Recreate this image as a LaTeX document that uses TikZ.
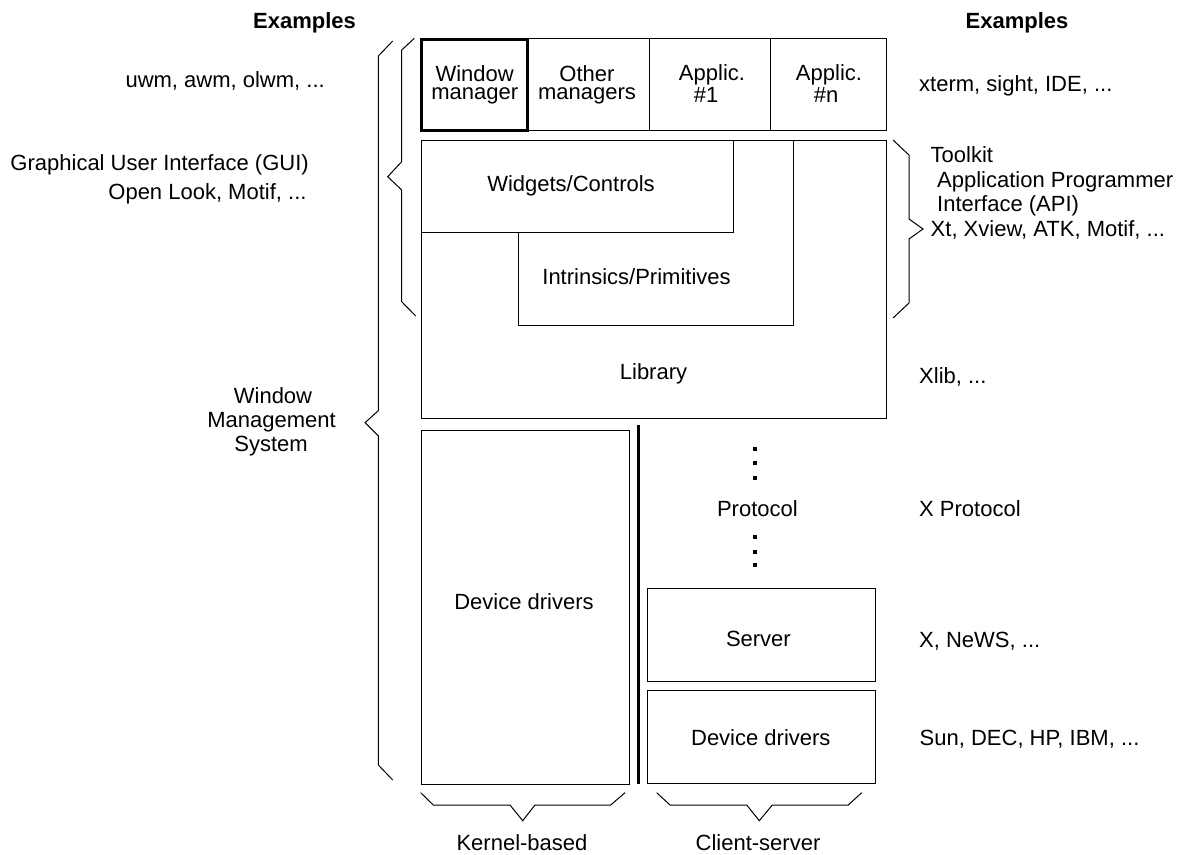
\documentclass[tikz,border=0pt]{standalone}
\usepackage{fontspec}
\setmainfont{Liberation Sans}
\begin{document}
\begin{tikzpicture}[x=1pt,y=-1pt,
  ln/.style={line width=1pt, line join=miter},
  thk/.style={line width=3pt, line join=miter},
  txt/.style={font=\fontsize{22}{24}\selectfont, inner sep=0pt, anchor=base},
  txtw/.style={txt, anchor=base west},
  txte/.style={txt, anchor=base east},
  hdr/.style={txt, font=\fontsize{22}{24}\selectfont\bfseries},
  dotsq/.style={fill=black}
]
\useasboundingbox (0,0) rectangle (1188,854);

% ---------- top row ----------
\draw[ln] (421.5,38) rectangle (886,130);
\draw[ln] (649.3,38) -- (649.3,130);
\draw[ln] (770.1,38) -- (770.1,130);
\draw[thk] (421.5,39.5) rectangle (527.5,130.5);

% ---------- GUI / library ----------
\draw[ln] (421.5,140) rectangle (886,418);
\draw[ln] (421.5,232.3) -- (733.3,232.3) -- (733.3,140);
\draw[ln] (518,232.3) -- (518,325) -- (793.5,325) -- (793.5,140);

% ---------- lower part ----------
\draw[ln] (421.5,430.7) rectangle (629.3,784.3);
\draw[thk] (638.3,425) -- (638.3,784.3);
\draw[ln] (647.5,588.3) rectangle (875.2,681);
\draw[ln] (647.5,690.3) rectangle (875.2,783.8);

% protocol dots
\foreach \yy in {449.3,463.3,477.7,536.7,551.7,565}
  \fill[dotsq] (753,\yy-2) rectangle (757,\yy+2);

% ---------- braces ----------
% big left brace (Window Management System)
\draw[ln] (392.7,41) -- (378.3,56) -- (378.3,410.7) -- (365,422.7) -- (378.3,436) -- (378.3,765) -- (392.7,780);
% small left brace (GUI)
\draw[ln] (414.3,38.3) -- (401.7,50) -- (401.7,161.7) -- (387.7,176.7) -- (401.7,190) -- (401.7,301.7) -- (415.7,316);
% right brace (Toolkit)
\draw[ln] (893,140) -- (909,155) -- (909,219) -- (923,229) -- (909,239) -- (909,303) -- (893,318);
% bottom braces
\draw[ln] (420.7,792.7) -- (433.3,805) -- (510,805) -- (522.7,820.7) -- (535,805) -- (610.7,805) -- (625,792.7);
\draw[ln] (656.7,792.7) -- (670,805) -- (746.7,805) -- (759.3,820.7) -- (772.3,805) -- (848.3,805) -- (861.7,792.7);

% ---------- box texts ----------
\node[txt] (wma) at (474.7,81) {Window};
\node[txt] (wmb) at (474.7,99.3) {manager};
\node[txt] (oma) at (587,81) {Other};
\node[txt] (omb) at (587,99.3) {managers};
\node[txt] (apa) at (712,80) {Applic.};
\node[txt] (apb) at (706,102.7) {\#1};
\node[txt] (ana) at (829,80) {Applic.};
\node[txt] (anb) at (826,102.7) {\#n};
\node[txt] (wid) at (571,191.3) {Widgets/Controls};
\node[txt] (intr) at (636.5,284.7) {Intrinsics/Primitives};
\node[txt] (lib) at (653.5,379.5) {Library};
\node[txt] (ddk) at (524,609.7) {Device drivers};
\node[txt] (prot) at (757.4,516.3) {Protocol};
\node[txt] (srv) at (758.4,646.3) {Server};
\node[txt] (ddc) at (760.8,745) {Device drivers};
\node[txt] (kb) at (522,850) {Kernel-based};
\node[txt] (cs) at (758,850) {Client-server};

% ---------- left examples ----------
\node[hdr] (exl) at (304.5,28) {Examples};
\node[txte] (uwm) at (325,87) {uwm, awm, olwm, ...};
\node[txte] (gui) at (309,170) {Graphical User Interface (GUI)};
\node[txte] (ol) at (306.7,199) {Open Look, Motif, ...};
\node[txt] (wmsa) at (273,403.3) {Window};
\node[txt] (wmsb) at (271.5,427.7) {Management};
\node[txt] (wmsc) at (271,451) {System};

% ---------- right examples ----------
\node[hdr] (exr) at (1017,28) {Examples};
\node[txtw] (xt) at (919,91) {xterm, sight, IDE, ...};
\node[txtw] (tk1) at (930.5,162) {Toolkit};
\node[txtw] (tk2) at (937,187) {Application Programmer};
\node[txtw] (tk3) at (937,211) {Interface (API)};
\node[txtw] (tk4) at (930.5,236) {Xt, Xview, ATK, Motif, ...};
\node[txtw] (xlib) at (919,383) {Xlib, ...};
\node[txtw] (xp) at (919,516.7) {X Protocol};
\node[txtw] (xn) at (919,647) {X, NeWS, ...};
\node[txtw] (sun) at (919.5,745) {Sun, DEC, HP, IBM, ...};
\end{tikzpicture}
\end{document}
